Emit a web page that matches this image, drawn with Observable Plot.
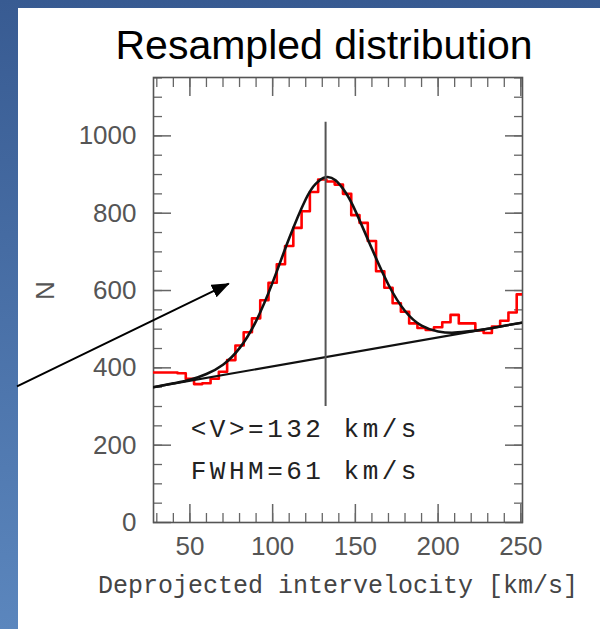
<!DOCTYPE html>
<html>
<head>
<meta charset="utf-8">
<script src="https://cdn.jsdelivr.net/npm/d3@7"></script>
<script src="https://cdn.jsdelivr.net/npm/@observablehq/plot@0.6"></script>
<style>
  html, body { margin: 0; padding: 0; }
  body { width: 600px; height: 629px; overflow: hidden; position: relative;
         background: linear-gradient(to bottom, #385b92, #5b86bd); }
  #panel { position: absolute; left: 18px; top: 8px; width: 582px; height: 621px; background: #fff; }
  #title { position: absolute; left: 0; top: 25px; width: 648px; text-align: center;
           font-family: "Liberation Sans", Arial, sans-serif; font-size: 41px; line-height: 41px; color: #000; }
  #chart { position: absolute; left: 0; top: 0; }
</style>
</head>
<body>
<div id="panel"></div>
<div id="title">Resampled distribution</div>
<div id="chart"></div>
<script>
// ---- data ----
const binCenters = [30,35,40,45,50,55,60,65,70,75,80,85,90,95,100,105,110,115,120,125,130,135,140,145,150,155,160,165,170,175,180,185,190,195,200,205,210,215,220,225,230,235,240,245,250];
const counts     = [388,388,388,386,372,358,360,372,390,420,458,492,528,575,620,668,715,762,805,855,887,882,874,850,795,775,728,650,607,567,545,515,503,498,505,518,537,515,515,497,490,507,522,543,590];
const binWidth = 5;

const fitV = [28,40,50,60,70,80,90,100,110,120,126,132,138,144,150,160,170,180,190,200,210,220,230,240,251];
const fitN = [350,360,369,384,408,451,521,621,735,836,876,893,885,854,806,708,615,547,509,494,491,495,501,509,517];

const baseV = [28, 251];
const baseN = [350, 517];

const meanV = [132];
const meanLineTop = [1035];
const meanLineBottom = [300];

const annoText = ["<V>=132 km/s", "FWHM=61 km/s"];
const annoX = [50.5, 50.5];
const annoY = [243, 135];

const arrowFrom = [-54.5, 352];
const arrowTo = [73.5, 618];

const xMajor = [50, 100, 150, 200, 250];
const xMinor = d3.range(30, 251, 10);
const yMajor = [0, 200, 400, 600, 800, 1000];
const yMinor = d3.range(50, 1151, 50);

const xLabel = ["Deprojected intervelocity [km/s]"];
const yLabel = ["N"];

// ---- tables ----
const hist = binCenters.map((c, i) => ({x: c - binWidth / 2, n: counts[i]}));
hist.push({x: binCenters[binCenters.length - 1] + binWidth / 2, n: counts[counts.length - 1]});
const fit = fitV.map((v, i) => ({v, n: fitN[i]}));
const base = baseV.map((v, i) => ({v, n: baseN[i]}));
const meanRule = meanV.map((v, i) => ({v, y1: meanLineBottom[i], y2: meanLineTop[i]}));
const anno = annoText.map((t, i) => ({t, x: annoX[i], y: annoY[i]}));
const arrow = [{x1: arrowFrom[0], y1: arrowFrom[1], x2: arrowTo[0], y2: arrowTo[1]}];

const tickColor = "#666";
const blank = () => "";
const intFmt = d3.format("d");

const chart = Plot.plot({
  width: 600, height: 629,
  marginLeft: 153, marginRight: 78, marginTop: 77, marginBottom: 107,
  style: {background: "transparent", overflow: "visible"},
  x: {domain: [28, 251]},
  y: {domain: [0, 1151]},
  marks: [
    // ticks, inward, on all four sides
    Plot.axisX(xMinor, {anchor: "bottom", tickSize: -9, tickFormat: blank, label: null, stroke: tickColor, strokeWidth: 1.3}),
    Plot.axisX(xMinor, {anchor: "top", tickSize: -9, tickFormat: blank, label: null, stroke: tickColor, strokeWidth: 1.3}),
    Plot.axisX(xMajor, {anchor: "bottom", tickSize: -18, tickFormat: blank, label: null, stroke: tickColor, strokeWidth: 1.5}),
    Plot.axisX(xMajor, {anchor: "top", tickSize: -18, tickFormat: blank, label: null, stroke: tickColor, strokeWidth: 1.5}),
    Plot.axisY(yMinor, {anchor: "left", tickSize: -9, tickFormat: blank, label: null, stroke: tickColor, strokeWidth: 1.3}),
    Plot.axisY(yMinor, {anchor: "right", tickSize: -9, tickFormat: blank, label: null, stroke: tickColor, strokeWidth: 1.3}),
    Plot.axisY(yMajor, {anchor: "left", tickSize: -18, tickFormat: blank, label: null, stroke: tickColor, strokeWidth: 1.5}),
    Plot.axisY(yMajor, {anchor: "right", tickSize: -18, tickFormat: blank, label: null, stroke: tickColor, strokeWidth: 1.5}),
    // tick labels
    Plot.axisX(xMajor, {anchor: "bottom", tickSize: 0, tickPadding: 14, label: null, fontSize: 26, tickFormat: intFmt,
      fontFamily: "Liberation Sans, Arial, sans-serif", fill: "#555"}),
    Plot.axisY(yMajor, {anchor: "left", tickSize: 0, tickPadding: 17, label: null, fontSize: 26, tickFormat: intFmt,
      fontFamily: "Liberation Sans, Arial, sans-serif", fill: "#555"}),
    Plot.frame({stroke: "#555", strokeWidth: 1.6}),
    // histogram
    Plot.line(hist, {x: "x", y: "n", curve: "step-after", stroke: "#ff0000", strokeWidth: 2.6, clip: true}),
    // baseline and fit
    Plot.line(base, {x: "v", y: "n", stroke: "#111", strokeWidth: 2.2, clip: true}),
    Plot.line(fit, {x: "v", y: "n", curve: "natural", stroke: "#111", strokeWidth: 2.6, clip: true}),
    // mean marker
    Plot.ruleX(meanRule, {x: "v", y1: "y1", y2: "y2", stroke: "#555", strokeWidth: 2}),
    // annotations
    Plot.text(anno, {x: "x", y: "y", text: "t", textAnchor: "start", fontSize: 26,
      fontFamily: "Liberation Mono, Courier New, monospace", fill: "#222", className: "anno"}),
    // axis titles
    Plot.text(xLabel, {frameAnchor: "bottom", dy: 70, text: d => d, fontSize: 25,
      fontFamily: "Liberation Mono, Courier New, monospace", fill: "#444"}),
    Plot.text(yLabel, {frameAnchor: "left", dx: -108, rotate: -90, text: d => d, fontSize: 26,
      fontFamily: "Liberation Sans, Arial, sans-serif", fill: "#555"}),
    // arrow
    Plot.link(arrow, {x1: "x1", y1: "y1", x2: "x2", y2: "y2", stroke: "#000", strokeWidth: 2})
  ]
});

const svg = d3.select(chart);
// wider letter spacing for the annotation text
svg.selectAll("g.anno").attr("letter-spacing", "3.5px");
// filled arrowhead
const defs = svg.insert("defs", ":first-child");
defs.append("marker")
  .attr("id", "ahead").attr("markerUnits", "userSpaceOnUse")
  .attr("viewBox", "0 0 18 14").attr("refX", 17).attr("refY", 7)
  .attr("markerWidth", 18).attr("markerHeight", 14).attr("orient", "auto")
  .append("path").attr("d", "M0,0L18,7L0,14Z").attr("fill", "#000");
svg.selectAll("g[aria-label=link] path").attr("marker-end", "url(#ahead)");

document.getElementById("chart").appendChild(chart);
</script>
</body>
</html>
